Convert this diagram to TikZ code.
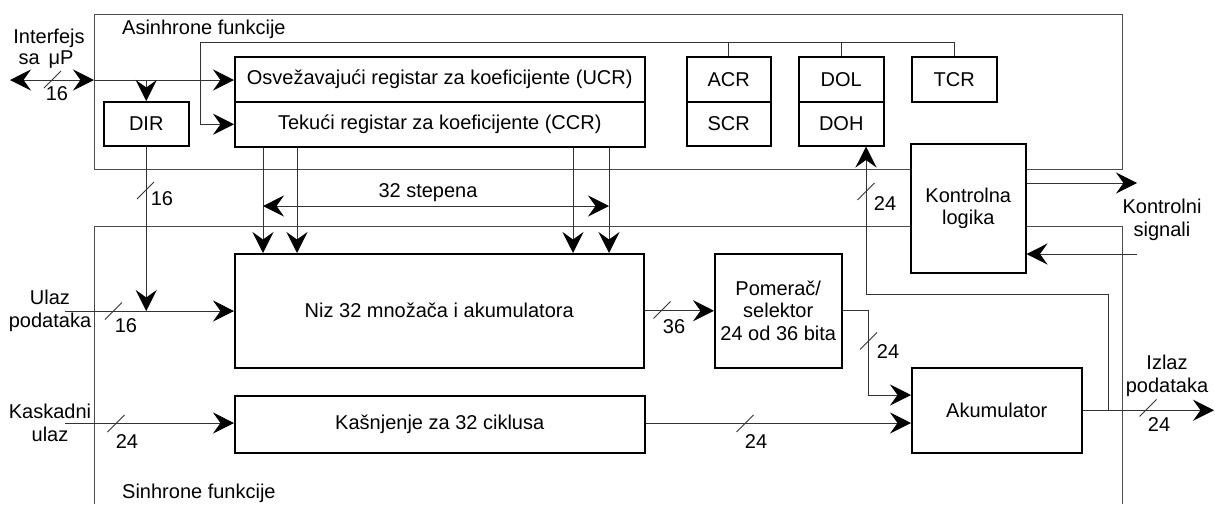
\documentclass[tikz,border=0pt]{standalone}
\usepackage{fontspec}
\setmainfont{Liberation Sans}
\usetikzlibrary{arrows.meta}
\begin{document}
\begin{tikzpicture}[x=1pt,y=-1pt,
  font=\fontsize{20}{22.5}\selectfont,
  box/.style={draw=black, line width=1.5pt, inner sep=0pt, anchor=north west, align=center},
  frame/.style={draw=black!70, line width=1pt},
  wire/.style={draw=black!80, line width=1pt},
  tip/.tip={Stealth[length=21pt,width=21pt,inset=7.5pt,color=black]},
  arr/.style={wire, -tip},
  darr/.style={wire, tip-tip},
  lbl/.style={inner sep=0pt, align=center},
  slash/.pic={\draw[draw=black!80, line width=0.9pt] (-8.5,8.5) -- (8.5,-8.5);}
]
\useasboundingbox (0,0) rectangle (1215,504);

% boxes
\node[box, minimum width=410pt, minimum height=45pt] (ucr) at (234,56) {Osvežavajući registar za koeficijente (UCR)};
\node[box, minimum width=410pt, minimum height=45pt] (ccr) at (234,101) {Tekući registar za koeficijente (CCR)};
\node[box, minimum width=84pt, minimum height=45pt] (acr) at (686,56) {ACR};
\node[box, minimum width=84pt, minimum height=44pt] (scr) at (686,101) {SCR};
\node[box, minimum width=85pt, minimum height=45pt] (dol) at (798,56) {DOL};
\node[box, minimum width=85pt, minimum height=44pt] (doh) at (798,101) {DOH};
\node[box, minimum width=85pt, minimum height=45pt] (tcr) at (911,56) {TCR};
\node[box, minimum width=85pt, minimum height=44pt] (dir) at (103,101) {DIR};
\node[box, minimum width=115pt, minimum height=129pt] (kl) at (910,143) {Kontrolna\\logika};
\node[box, minimum width=409pt, minimum height=114pt] (niz) at (234,253) {Niz 32 množača i akumulatora};
\node[box, minimum width=127pt, minimum height=114pt] (pom) at (714,253) {Pomerač/\\selektor\\24 od 36 bita};
\node[box, minimum width=410pt, minimum height=57pt] (kas) at (234,395) {Kašnjenje za 32 ciklusa};
\node[box, minimum width=170pt, minimum height=85pt] (acc) at (911,367) {Akumulator};

% frames
\draw[frame] (kl.west |- 0,169) -- (94,169) -- (94,14) -- (1122,14) -- (1122,169) -- (kl.east |- 0,169);
\draw[frame] (94,504) -- (94,226) -- (kl.west |- 0,226);
\draw[frame] (kl.east |- 0,226) -- (1122,226) -- (1122,504);
\node[lbl, anchor=base west] (asyn) at (122,34) {Asinhrone funkcije};
\node[lbl, anchor=base west] (syn) at (122,498) {Sinhrone funkcije};

% coordinates
\coordinate (bl) at (200,42);
\coordinate (ifl) at (10,80);
\coordinate (ifr) at (94,80);
\coordinate (ul) at (65,311);
\coordinate (ku) at (65,423);
\coordinate (d1) at (263,0);
\coordinate (d2) at (297,0);
\coordinate (d3) at (573,0);
\coordinate (d4) at (609,0);
\coordinate (s1) at (263,206);
\coordinate (s2) at (609,206);
\coordinate (pa) at (868,395);
\coordinate (tapc) at (1108,294);
\coordinate (fb) at (866,294);
\coordinate (out) at (1214,409);
\coordinate (ko) at (1137,183);
\coordinate (ki) at (1137,254);

% top bus
\draw[arr] (tcr.north |- bl) -- (bl) -- (bl |- ccr.west) -- (ccr.west);
\draw[wire] (acr.north |- bl) -- (acr.north);
\draw[wire] (dol.north |- bl) -- (dol.north);
\draw[wire] (tcr.north |- bl) -- (tcr.north);

% interface
\draw[darr] (ifl) -- (ifr);
\draw[arr] (ifr) -- (ucr.west |- ifr);
\draw[arr] (dir.north |- ifr) -- (dir.north);
\pic at (52.5,79.5) {slash};
\node[lbl] (if16) at (57,94) {16};
\node[lbl] (ifl1) at (49,38) {Interfejs};
\node[lbl] (ifl2) at (46,60) {sa\hspace{0.45em}μP};

% DIR to data input
\draw[arr] (dir.south) -- (dir.south |- ul);
\pic at (145.5,190.5) {slash};
\node[lbl] (dir16) at (162,199) {16};

% data input
\draw[arr] (ul) -- (niz.west |- ul);
\pic at (113.5,311) {slash};
\node[lbl] (ul16) at (126,326) {16};
\node[lbl] (ullbl) at (50,311) {Ulaz\\podataka};

% coefficient drops
\draw[arr] (ccr.south -| d1) -- (niz.north -| d1);
\draw[arr] (ccr.south -| d2) -- (niz.north -| d2);
\draw[arr] (ccr.south -| d3) -- (niz.north -| d3);
\draw[arr] (ccr.south -| d4) -- (niz.north -| d4);
\draw[darr] (s1) -- (s2);
\node[lbl] (st) at (428,193) {32 stepena};

% niz -> pomerac
\draw[arr] (niz.east) -- (pom.west);
\pic at (662,310) {slash};
\node[lbl] (n36) at (674,327) {36};

% pomerac -> akumulator
\draw[arr] (pom.east) -- (pom.east -| pa) -- (pa) -- (acc.west |- pa);
\pic at (868.5,341) {slash};
\node[lbl] (p24) at (888,352) {24};

% cascade input
\draw[arr] (ku) -- (kas.west |- ku);
\pic at (116,423.5) {slash};
\node[lbl] (k24) at (127,442) {24};
\node[lbl] (kaslbl) at (50,423) {Kaskadni\\ulaz};
\draw[arr] (kas.east |- ku) -- (acc.west |- ku);
\pic at (745,423.5) {slash};
\node[lbl] (kd24) at (756,442) {24};

% output
\draw[arr] (acc.east) -- (acc.east -| out);
\pic at (1148,408) {slash};
\node[lbl] (o24) at (1159,425) {24};
\node[lbl] (olbl) at (1167,376) {Izlaz\\podataka};

% feedback to DOH
\draw[arr] (acc.east -| tapc) -- (tapc) -- (fb) -- (fb |- doh.south);
\pic at (866,191.5) {slash};
\node[lbl] (f24) at (885,204) {24};

% control signals
\draw[arr] (kl.east |- ko) -- (ko);
\draw[arr] (ki) -- (kl.east |- ki);
\node[lbl] (kslbl) at (1162,220) {Kontrolni\\signali};
\end{tikzpicture}
\end{document}
